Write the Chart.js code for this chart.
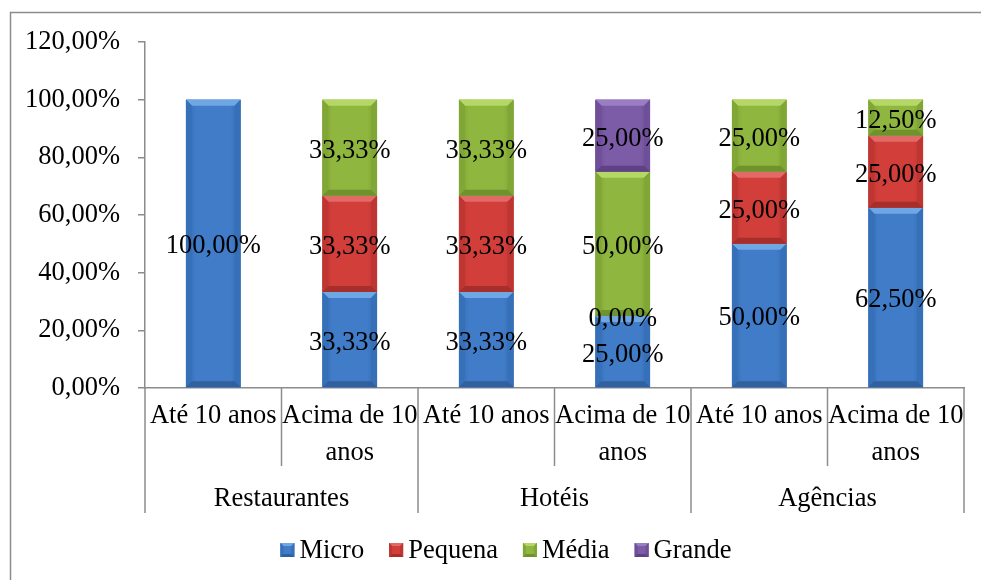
<!DOCTYPE html>
<html>
<head>
<meta charset="utf-8">
<script src="https://cdn.jsdelivr.net/npm/chart.js@4.4.1/dist/chart.umd.min.js"></script>
<style>
  html, body { margin: 0; padding: 0; background: #ffffff; }
  #wrap { position: relative; width: 981px; height: 580px; }
</style>
</head>
<body>
<div id="wrap"><canvas id="c" width="981" height="580"></canvas></div>
<script>
// Sub-categories (age of business) and their sector groups
const categories = ['Até 10 anos', ['Acima de 10', 'anos'], 'Até 10 anos', ['Acima de 10', 'anos'], 'Até 10 anos', ['Acima de 10', 'anos']];
const groups = ['Restaurantes', 'Hotéis', 'Agências'];

// Share of each company size (%)
const micro   = [100, 33.33, 33.33, 25, 50, 62.5];
const pequena = [null, 33.33, 33.33, 0, 25, 25];
const media   = [null, 33.33, 33.33, 50, 25, 12.5];
const grande  = [null, null, null, 25, null, null];

const seriesNames = ['Micro', 'Pequena', 'Média', 'Grande'];
const yTicks = [0, 20, 40, 60, 80, 100, 120];

const FONT = '"Liberation Serif", "Times New Roman", serif';
const FSIZE = 26.5;
const AXIS = '#8c8c8c';

// Bevelled fill tones for each series
const palettes = [
  { base: '#407CC8', edge: '#3569AE', top: '#6FA6E4', side: '#3670B8', bottom: '#30609E' },
  { base: '#D23F3B', edge: '#B93431', top: '#E26A66', side: '#BE3532', bottom: '#A62E2B' },
  { base: '#8FB63E', edge: '#7DA034', top: '#B5D766', side: '#80A636', bottom: '#70922E' },
  { base: '#7C5BA7', edge: '#6B4C93', top: '#9A7DC2', side: '#6E4F98', bottom: '#5E4284' }
];

const fmt = v => v.toFixed(2).replace('.', ',') + '%';

function poly(ctx, pts, color) {
  ctx.beginPath();
  ctx.moveTo(pts[0][0], pts[0][1]);
  for (let i = 1; i < pts.length; i++) ctx.lineTo(pts[i][0], pts[i][1]);
  ctx.closePath();
  ctx.fillStyle = color;
  ctx.fill();
}

function bevel(ctx, l, t, r, b, pal, size) {
  const w = r - l, h = b - t;
  if (h <= 0 || w <= 0) return;
  const s = Math.min(size, h / 2, w / 2);
  const g = ctx.createLinearGradient(l, 0, r, 0);
  g.addColorStop(0, pal.edge);
  g.addColorStop(0.18, pal.base);
  g.addColorStop(0.82, pal.base);
  g.addColorStop(1, pal.edge);
  ctx.fillStyle = g;
  ctx.fillRect(l, t, w, h);
  poly(ctx, [[l, t], [r, t], [r - s, t + s], [l + s, t + s]], pal.top);
  poly(ctx, [[l, t], [l + s, t + s], [l + s, b - s], [l, b]], pal.side);
  poly(ctx, [[r, t], [r, b], [r - s, b - s], [r - s, t + s]], pal.side);
  poly(ctx, [[l, b], [l + s, b - s], [r - s, b - s], [r, b]], pal.bottom);
}

// Bevel shading on bars and centred value labels
const barDecor = {
  id: 'barDecor',
  afterDatasetsDraw(chart) {
    const ctx = chart.ctx;
    ctx.save();
    chart.data.datasets.forEach((ds, i) => {
      const meta = chart.getDatasetMeta(i);
      meta.data.forEach((bar, j) => {
        if (ds.data[j] === null) return;
        const p = bar.getProps(['x', 'y', 'base', 'width'], true);
        const l = p.x - p.width / 2, r = p.x + p.width / 2;
        bevel(ctx, l, Math.min(p.y, p.base), r, Math.max(p.y, p.base), palettes[i], 6);
      });
    });
    ctx.font = FSIZE + 'px ' + FONT;
    ctx.fillStyle = '#000';
    ctx.textAlign = 'center';
    ctx.textBaseline = 'middle';
    chart.data.datasets.forEach((ds, i) => {
      const meta = chart.getDatasetMeta(i);
      meta.data.forEach((bar, j) => {
        const v = ds.data[j];
        if (v === null) return;
        const p = bar.getProps(['x', 'y', 'base'], true);
        ctx.fillText(fmt(v), p.x, (p.y + p.base) / 2 + 3);
      });
    });
    ctx.restore();
  },
  afterDraw(chart) {
    const ctx = chart.ctx;
    const xs = chart.scales.x;
    const area = chart.chartArea;
    ctx.save();

    // outer frame
    ctx.strokeStyle = AXIS;
    ctx.lineWidth = 1.5;
    ctx.beginPath();
    ctx.moveTo(10.5, 580);
    ctx.lineTo(10.5, 12.5);
    ctx.lineTo(981, 12.5);
    ctx.stroke();

    // category dividers below the axis
    const n = categories.length;
    const step = (xs.getPixelForValue(1) - xs.getPixelForValue(0));
    for (let k = 0; k <= n; k++) {
      const x = xs.getPixelForValue(0) - step / 2 + k * step;
      const major = k % 2 === 0;
      ctx.beginPath();
      ctx.moveTo(x, area.bottom);
      ctx.lineTo(x, area.bottom + (major ? 125 : 78));
      ctx.stroke();
    }

    // group labels
    ctx.font = FSIZE + 'px ' + FONT;
    ctx.fillStyle = '#000';
    ctx.textAlign = 'center';
    ctx.textBaseline = 'middle';
    groups.forEach((g, gi) => {
      const cx = (xs.getPixelForValue(gi * 2) + xs.getPixelForValue(gi * 2 + 1)) / 2;
      ctx.fillText(g, cx, area.bottom + 111);
    });

    // legend
    const boxS = 14, gap = 5, spacing = 25;
    const widths = seriesNames.map(s => ctx.measureText(s).width);
    const total = widths.reduce((a, w) => a + boxS + gap + w, 0) + spacing * (seriesNames.length - 1);
    let x = 506 - total / 2;
    const ly = 550;
    ctx.textAlign = 'left';
    seriesNames.forEach((s, i) => {
      bevel(ctx, x, ly - 7, x + boxS, ly + 7, palettes[i], 3);
      ctx.fillStyle = '#000';
      ctx.fillText(s, x + boxS + gap, ly + 1);
      x += boxS + gap + widths[i] + spacing;
    });
    ctx.restore();
  }
};

const seriesData = [micro, pequena, media, grande];

new Chart(document.getElementById('c'), {
  type: 'bar',
  data: {
    labels: categories,
    datasets: seriesData.map((d, i) => ({
      label: seriesNames[i],
      data: d,
      backgroundColor: palettes[i].base,
      borderWidth: 0,
      categoryPercentage: 1,
      barPercentage: 0.4
    }))
  },
  options: {
    responsive: false,
    animation: false,
    devicePixelRatio: 1,
    layout: { padding: { left: 0, top: 42, right: 17, bottom: 0 } },
    plugins: {
      legend: { display: false },
      tooltip: { enabled: false }
    },
    scales: {
      x: {
        stacked: true,
        grid: { display: false, drawTicks: false },
        border: { display: true, color: AXIS, width: 1.5 },
        ticks: {
          color: '#000',
          font: { family: FONT, size: FSIZE, lineHeight: 1.4 },
          padding: 9,
          maxRotation: 0,
          minRotation: 0,
          autoSkip: false
        },
        afterFit(s) { s.height = 192; }
      },
      y: {
        stacked: true,
        min: 0,
        max: 120,
        grid: { drawOnChartArea: false, drawTicks: true, tickLength: 7, color: AXIS, lineWidth: 1.5 },
        border: { display: true, color: AXIS, width: 1.5 },
        ticks: {
          color: '#000',
          font: { family: FONT, size: FSIZE },
          padding: 18,
          callback: v => fmt(v)
        },
        afterBuildTicks(s) { s.ticks = yTicks.map(v => ({ value: v })); },
        afterFit(s) { s.width = 145; }
      }
    }
  },
  plugins: [barDecor]
});
</script>
</body>
</html>
